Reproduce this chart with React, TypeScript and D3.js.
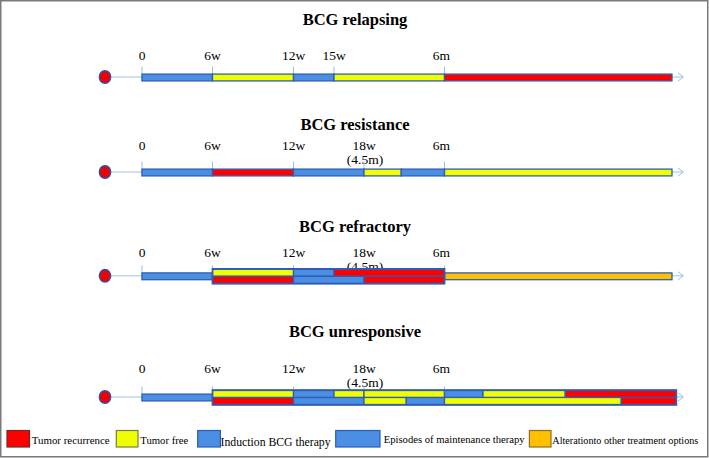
import React from "react";
import * as d3 from "d3";

// ---------- data ----------
const panelTitles = ["BCG relapsing", "BCG resistance", "BCG refractory", "BCG unresponsive"];

const relapsingTickLabels = ["0", "6w", "12w", "15w", "6m"];
const relapsingTickWeeks = [0, 6, 12, 15, 26];
const tickLabels = ["0", "6w", "12w", "18w", "6m"];
const tickWeeks = [0, 6, 12, 18, 26];
const subLabel = "(4.5m)";
const subLabelWeek = 18;

// segments: [startWeek, endWeek, state]
type Seg = [number, number, string];
const relapsingRow: Seg[] = [[0, 6, "ind"], [6, 12, "free"], [12, 15, "maint"], [15, 26, "free"], [26, 52, "rec"]];
const resistanceRow: Seg[] = [[0, 6, "ind"], [6, 12, "rec"], [12, 18, "maint"], [18, 21.7, "free"], [21.7, 26, "maint"], [26, 52, "free"]];
const refractorySingle: Seg[] = [[0, 6, "ind"], [26, 52, "alt"]];
const refractoryTop: Seg[] = [[6, 12, "free"], [12, 15, "maint"], [15, 26, "rec"]];
const refractoryBottom: Seg[] = [[6, 12, "rec"], [12, 18, "maint"], [18, 26, "rec"]];
const unresponsiveSingle: Seg[] = [[0, 6, "ind"]];
const unresponsiveTop: Seg[] = [[6, 12, "free"], [12, 15, "maint"], [15, 18, "free"], [18, 26, "free"], [26, 30.4, "maint"], [30.4, 39.8, "free"], [39.8, 52.5, "rec"]];
const unresponsiveBottom: Seg[] = [[6, 12, "rec"], [12, 18, "maint"], [18, 22.2, "free"], [22.2, 26, "maint"], [26, 46.2, "free"], [46.2, 52.5, "rec"]];

const legendKeys = ["rec", "free", "ind", "maint", "alt"];
const legendLabels = ["Tumor recurrence", "Tumor free", "Induction BCG therapy", "Episodes of maintenance therapy", "Alterationto other treatment options"];

// ---------- styles ----------
const fillOf: Record<string, string> = { rec: "#FF0000", free: "#F0FF00", ind: "#4A8FE2", maint: "#4A8FE2", alt: "#FFC000" };
const legendStroke: Record<string, string> = { rec: "#6e2a2a", free: "#7a7a48", ind: "#2B5CB8", maint: "#2B5CB8", alt: "#8c6d2a" };
const SEG_STROKE = "#2F5CB5";
const AXIS = "#9CC0EA";
const SERIF = "'Liberation Serif', 'Times New Roman', serif";

const panels = [
  { title: panelTitles[0], labels: relapsingTickLabels, weeks: relapsingTickWeeks, sub: false, single: relapsingRow, top: [] as Seg[], bottom: [] as Seg[] },
  { title: panelTitles[1], labels: tickLabels, weeks: tickWeeks, sub: true, single: resistanceRow, top: [] as Seg[], bottom: [] as Seg[] },
  { title: panelTitles[2], labels: tickLabels, weeks: tickWeeks, sub: true, single: refractorySingle, top: refractoryTop, bottom: refractoryBottom },
  { title: panelTitles[3], labels: tickLabels, weeks: tickWeeks, sub: true, single: unresponsiveSingle, top: unresponsiveTop, bottom: unresponsiveBottom },
];

// layout (positions)
const layout = [
  { titleY: 24.5, labelY: 60, cy: 77.5 },
  { titleY: 129.5, labelY: 149.5, cy: 172.5 },
  { titleY: 232, labelY: 256.5, cy: 276.3 },
  { titleY: 336.5, labelY: 372.5, cy: 397.5 },
];

const legendLayout = [
  { x: 7, w: 22.5, tx: 31.7, tw: 78, fs: 11, by: 443.5 },
  { x: 116.3, w: 21.7, tx: 140.3, tw: 48, fs: 11, by: 443.5 },
  { x: 197.7, w: 22.7, tx: 220.6, tw: 110, fs: 12, by: 446 },
  { x: 335.7, w: 44.3, tx: 383.7, tw: 141, fs: 11, by: 443 },
  { x: 529.4, w: 21.6, tx: 552.3, tw: 146, fs: 11, by: 443.5 },
];

export default function App() {
  const x = d3.scaleLinear()
    .domain([0, 6, 12, 15, 18, 26, 52])
    .range([142, 212.5, 293.5, 334, 364, 444.5, 672]);

  const singleH = 6.8;
  const rowH = 7;

  return (
    <svg width={709} height={458} style={{ position: "absolute", left: 0, top: 0, background: "#fff" }}>
      <rect x={0.75} y={0.75} width={707} height={456} fill="#fff" stroke="#7a7a7a" strokeWidth={1.5} />
      {panels.map((p, i) => {
        const L = layout[i];
        const cy = L.cy;
        const dbl = [...p.top, ...p.bottom];
        const frameX0 = dbl.length ? x(d3.min(dbl, (d) => d[0]) as number) : 0;
        const frameX1 = dbl.length ? x(d3.max(dbl, (d) => d[1]) as number) : 0;
        return (
          <g key={i}>
            <text x={355} y={L.titleY} textAnchor="middle" fontFamily={SERIF} fontWeight="bold" fontSize={16.5} fill="#000">
              {p.title}
            </text>
            {p.labels.map((lab, j) => (
              <text key={j} x={x(p.weeks[j]) - (p.weeks[j] === 26 ? 3 : 0)} y={L.labelY} textAnchor="middle" fontFamily={SERIF} fontSize={13.5} fill="#000">
                {lab}
              </text>
            ))}
            {p.sub && (
              <text x={x(subLabelWeek) + 1} y={L.labelY + 14.5} textAnchor="middle" fontFamily={SERIF} fontSize={13.5} fill="#000">
                {subLabel}
              </text>
            )}
            {/* axis line */}
            <line x1={108} x2={683} y1={cy - 0.5} y2={cy - 0.5} stroke={AXIS} strokeWidth={1} />
            <path d={`M${678},${cy - 4.5} L${683.5},${cy - 0.5} L${678},${cy + 3.5}`} fill="none" stroke={AXIS} strokeWidth={1} />
            {/* ticks */}
            {p.weeks.map((w, j) => (
              <line key={j} x1={x(w)} x2={x(w)} y1={cy - 11} y2={cy + 4} stroke={AXIS} strokeWidth={1} />
            ))}
            {/* start marker */}
            <ellipse cx={105} cy={cy - 0.5} rx={5.6} ry={6.2} fill="#F00000" stroke="#3050A8" strokeWidth={1.5} />
            {/* single bars */}
            {p.single.map((s, j) => (
              <rect key={"s" + j} x={x(s[0])} y={cy - singleH / 2} width={x(s[1]) - x(s[0])} height={singleH}
                fill={fillOf[s[2]]} stroke={SEG_STROKE} strokeWidth={1.3} />
            ))}
            {p.top.map((s, j) => (
              <rect key={"t" + j} x={x(s[0])} y={cy - rowH} width={x(s[1]) - x(s[0])} height={rowH}
                fill={fillOf[s[2]]} stroke={SEG_STROKE} strokeWidth={1.3} />
            ))}
            {p.bottom.map((s, j) => (
              <rect key={"b" + j} x={x(s[0])} y={cy} width={x(s[1]) - x(s[0])} height={rowH}
                fill={fillOf[s[2]]} stroke={SEG_STROKE} strokeWidth={1.3} />
            ))}
            {dbl.length > 0 && (
              <rect x={frameX0} y={cy - rowH - 0.5} width={frameX1 - frameX0} height={2 * rowH + 1} fill="none" stroke={SEG_STROKE} strokeWidth={1.6} />
            )}
          </g>
        );
      })}
      {/* legend */}
      {legendKeys.map((k, i) => {
        const l = legendLayout[i];
        return (
          <g key={k}>
            <rect x={l.x} y={430.5} width={l.w} height={16.5} fill={fillOf[k]} stroke={legendStroke[k]} strokeWidth={1.2} />
            <text x={l.tx} y={l.by} fontFamily={SERIF} fontSize={l.fs} fill="#000" textLength={l.tw} lengthAdjust="spacingAndGlyphs">
              {legendLabels[i]}
            </text>
          </g>
        );
      })}
    </svg>
  );
}
